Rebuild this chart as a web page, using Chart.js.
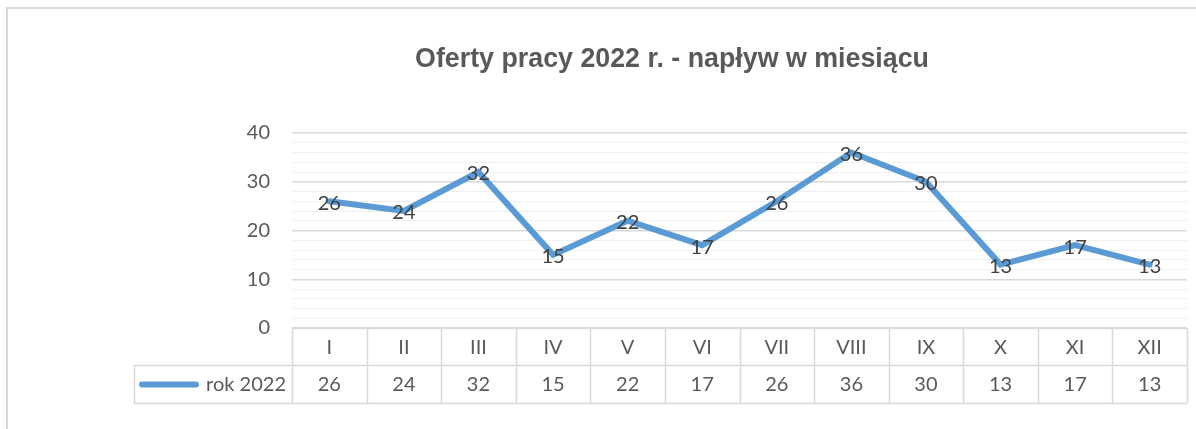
<!DOCTYPE html>
<html><head><meta charset="utf-8">
<script src="https://cdn.jsdelivr.net/npm/chart.js@4"></script>
<style>html,body{margin:0;padding:0;background:#fff}#wrap{width:1196px;height:429px;position:relative}</style>
</head><body><div id="wrap"><canvas id="c" width="1196" height="429"></canvas></div>
<script>
const chartTitle = 'Oferty pracy 2022 r. - napływ w miesiącu';
const categories = ['I','II','III','IV','V','VI','VII','VIII','IX','X','XI','XII'];
const seriesName = 'rok 2022';
const values = [26,24,32,15,22,17,26,36,30,13,17,13];
const yMin = 0, yMax = 40, yMajor = 10, yMinor = 2;

const LINE = '#5b9bd5', GRID = '#d9d9d9', MINOR = '#f0f0f0', TXT = '#595959', LBL = '#404040';
const FONT = 'Lato, "Noto Sans", sans-serif';

const framePlugin = {
  id: 'frame',
  beforeDraw(chart) {
    const ctx = chart.ctx;
    ctx.save();
    ctx.fillStyle = '#fff';
    ctx.fillRect(0, 0, chart.width, chart.height);
    ctx.strokeStyle = GRID; ctx.lineWidth = 2;
    ctx.beginPath();
    ctx.moveTo(7, chart.height + 5); ctx.lineTo(7, 8); ctx.lineTo(chart.width + 5, 8);
    ctx.stroke();
    ctx.fillStyle = TXT;
    ctx.font = 'bold 26.8px "Liberation Sans", Arial, sans-serif';
    ctx.textAlign = 'center'; ctx.textBaseline = 'middle';
    ctx.fillText(chartTitle, 672, 60);
    ctx.restore();
  }
};

const labelPlugin = {
  id: 'labels',
  afterDatasetsDraw(chart) {
    const ctx = chart.ctx, meta = chart.getDatasetMeta(0);
    ctx.save();
    ctx.fillStyle = LBL; ctx.font = '20px ' + FONT;
    ctx.textAlign = 'center'; ctx.textBaseline = 'middle';
    meta.data.forEach((pt, i) => ctx.fillText(String(values[i]), pt.x, pt.y + 2));
    ctx.restore();
  }
};

const tablePlugin = {
  id: 'table',
  afterDraw(chart) {
    const ctx = chart.ctx, xs = chart.scales.x, area = chart.chartArea;
    const n = categories.length;
    const w = (area.right - area.left) / n;
    const top = area.bottom, mid = top + 37, bot = mid + 38, legLeft = 134;
    ctx.save();
    ctx.strokeStyle = GRID; ctx.lineWidth = 1.5;
    ctx.beginPath();
    ctx.moveTo(area.left, top + 0.5); ctx.lineTo(area.right, top + 0.5);
    ctx.moveTo(legLeft, mid + 0.5); ctx.lineTo(area.right, mid + 0.5);
    ctx.moveTo(legLeft, bot + 0.5); ctx.lineTo(area.right, bot + 0.5);
    ctx.moveTo(legLeft + 0.5, mid); ctx.lineTo(legLeft + 0.5, bot);
    for (let i = 0; i <= n; i++) {
      const x = Math.round(xs.getPixelForValue(i) - w / 2) + 0.5;
      ctx.moveTo(x, top); ctx.lineTo(x, bot);
    }
    ctx.stroke();
    ctx.fillStyle = TXT; ctx.font = '20px ' + FONT;
    ctx.textAlign = 'center'; ctx.textBaseline = 'middle';
    categories.forEach((c, i) => {
      const x = xs.getPixelForValue(i);
      ctx.fillText(c, x, (top + mid) / 2 + 1);
      ctx.fillText(String(values[i]), x, (mid + bot) / 2 + 1);
    });
    ctx.textAlign = 'right';
    ctx.fillText(seriesName, area.left - 6, (mid + bot) / 2 + 1);
    ctx.strokeStyle = LINE; ctx.lineWidth = 6; ctx.lineCap = 'round';
    ctx.beginPath();
    ctx.moveTo(142, (mid + bot) / 2 + 0.5); ctx.lineTo(196, (mid + bot) / 2 + 0.5);
    ctx.stroke();
    ctx.restore();
  }
};

new Chart(document.getElementById('c'), {
  type: 'line',
  data: { labels: categories, datasets: [{ label: seriesName, data: values, borderColor: LINE, borderWidth: 6, pointRadius: 0, tension: 0, borderJoinStyle: 'miter', borderCapStyle: 'round' }] },
  options: {
    responsive: false, animation: false, devicePixelRatio: 1,
    layout: { padding: { left: 0, top: 133, right: 9, bottom: 101 } },
    plugins: { legend: { display: false }, title: { display: false }, tooltip: { enabled: false } },
    scales: {
      x: { display: false, offset: true },
      y: {
        min: yMin, max: yMax,
        afterFit(s) { s.width = 292; },
        border: { display: false },
        grid: { drawTicks: false, color: c => (c.tick && c.tick.value % yMajor === 0) ? GRID : MINOR, lineWidth: c => (c.tick && c.tick.value % yMajor === 0) ? 1.5 : 1 },
        ticks: { stepSize: yMinor, maxTicksLimit: 100, autoSkip: false, padding: 22, color: TXT, font: { family: FONT, size: 20 },
          callback: v => (v % yMajor === 0 ? String(v) : '') }
      }
    }
  },
  plugins: [framePlugin, labelPlugin, tablePlugin]
});
</script></body></html>
